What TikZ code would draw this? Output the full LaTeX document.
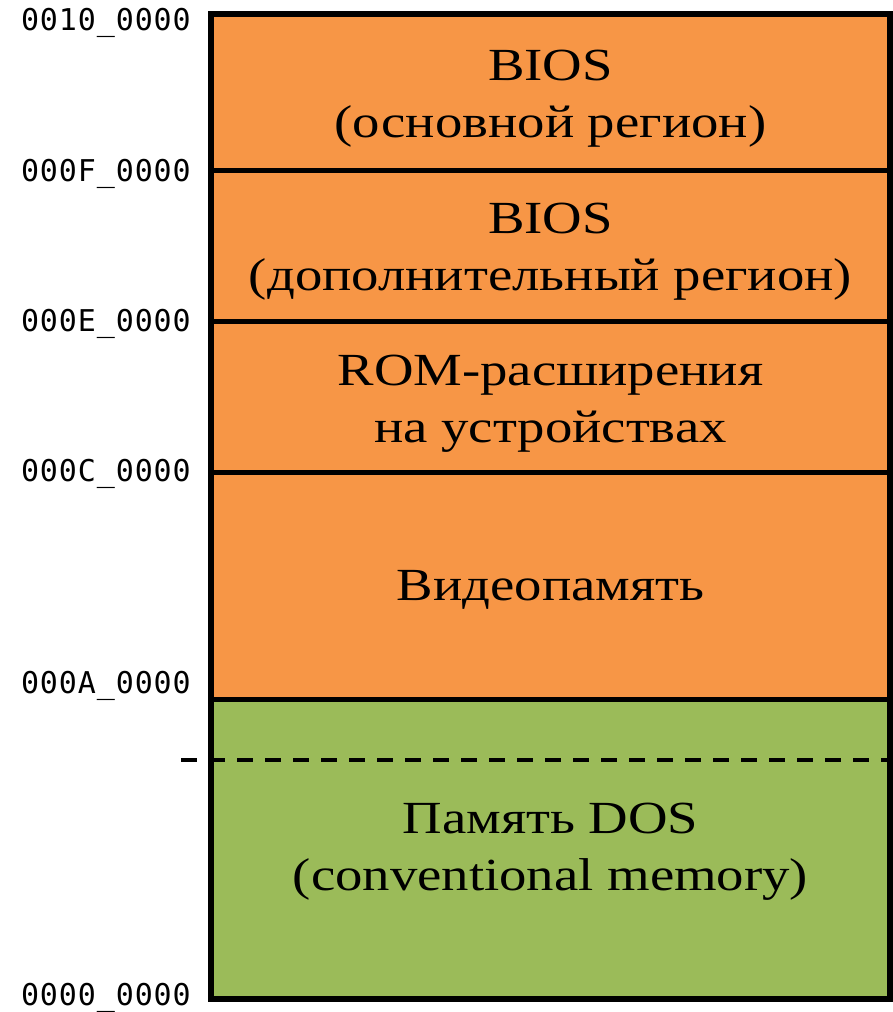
\documentclass[tikz,border=0pt]{standalone}
\usepackage{fontspec}
\setmainfont[FakeStretch=1.19]{Liberation Serif}
\newfontfamily\addrfont[LetterSpace=3]{DejaVu Sans Mono}
\definecolor{romorange}{HTML}{F79646}
\definecolor{ramgreen}{HTML}{9BBB59}
\begin{document}
\begin{tikzpicture}[x=1pt,y=-1pt,
  region/.style={draw=black, line width=5.5pt, minimum width=679pt,
    inner sep=0pt, outer sep=0pt, anchor=north west},
  caption/.style={align=center, inner sep=0pt, anchor=base,
    font=\fontsize{46}{57}\selectfont},
  addr/.style={anchor=base east, inner sep=0pt,
    font=\addrfont\fontsize{30}{30}\selectfont},
  boundary/.style={black, line width=4pt, dash pattern=on 16pt off 12pt}]
  \useasboundingbox (0,0) rectangle (893,1012);

  % memory regions, top to bottom
  \node[region, fill=romorange, minimum height=156.5pt] (bios) at (211,14) {};
  \node[region, fill=romorange, minimum height=151pt] (biosext) at (211,170.5) {};
  \node[region, fill=romorange, minimum height=151pt] (rom) at (211,321.5) {};
  \node[region, fill=romorange, minimum height=227pt] (video) at (211,472.5) {};
  \node[region, fill=ramgreen, minimum height=299.5pt] (dos) at (211,699.5) {};

  % region captions (anchored at the baseline of the last line)
  \node[caption] (tbios) at (550.5,137) {BIOS\\(основной регион)};
  \node[caption] (tbiosext) at (550.5,290) {BIOS\\(дополнительный регион)};
  \node[caption] (trom) at (550.5,442) {ROM-расширения\\на устройствах};
  \node[caption] (tvideo) at (550.5,600) {Видеопамять};
  \node[caption] (tdos) at (550.5,890) {Память DOS\\(conventional memory)};

  % dashed divider inside conventional memory
  \coordinate (dashL) at (181,759.5);
  \draw[boundary] (dashL) -- (dos.east |- dashL);

  % addresses
  \node[addr] (a10) at (191,30) {0010\_0000};
  \node[addr] (a0f) at (191,181) {000F\_0000};
  \node[addr] (a0e) at (191,331) {000E\_0000};
  \node[addr] (a0c) at (191,481) {000C\_0000};
  \node[addr] (a0a) at (191,693) {000A\_0000};
  \node[addr] (a00) at (191,1005) {0000\_0000};
\end{tikzpicture}
\end{document}
